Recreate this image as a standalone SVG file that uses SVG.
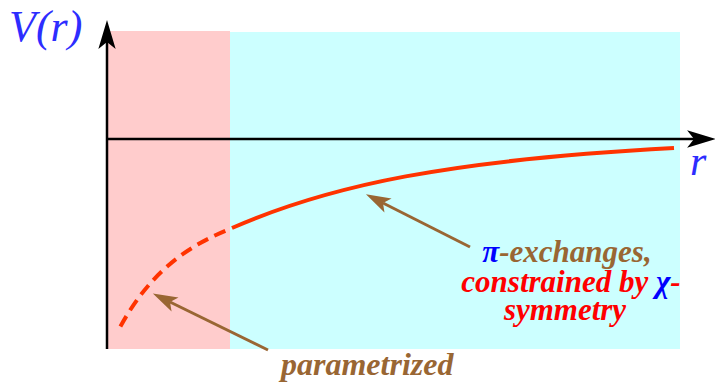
<svg xmlns="http://www.w3.org/2000/svg" width="715" height="382" viewBox="0 0 715 382">
<defs>
<marker id="ah" markerUnits="userSpaceOnUse" markerWidth="30" markerHeight="20" viewBox="0 -8 26 16" refX="6" refY="0" orient="auto">
<path d="M0,-7.5 L25,0 L0,7.5 L6,0 Z" fill="#000"/>
</marker>
<marker id="bh" markerUnits="userSpaceOnUse" markerWidth="26" markerHeight="18" viewBox="0 -8 23 16" refX="5" refY="0" orient="auto">
<path d="M0,-7 L22,0 L0,7 L5,0 Z" fill="#996633"/>
</marker>
</defs>
<g id="regions">
<rect id="short-range" x="108" y="31" width="122" height="318" fill="#ffcccc"/>
<rect id="long-range" x="230" y="32" width="450" height="317" fill="#ccffff"/>
</g>
<g id="curves" stroke="#ff3300" stroke-width="4" fill="none">
<path id="dashed" d="M118,331 C150,270 190,245 230,229" stroke-dasharray="12,7" stroke-dashoffset="14"/>
<path id="solid" d="M232,228 C330,185 450,160 674,148"/>
</g>
<g id="connectors" fill="none">
<g stroke="#000" stroke-width="2.5" marker-end="url(#ah)">
<path id="y-axis" d="M107,349 L107,42"/>
<path id="x-axis" d="M107,139 L694,139"/>
</g>
<g stroke="#996633" stroke-width="3" marker-end="url(#bh)">
<path id="ptr-pi" d="M470,247 L383,203"/>
<path id="ptr-param" d="M268,350 L170,302"/>
</g>
</g>
<g id="axis-labels">
<text style="font-family:'Liberation Serif',serif;font-style:italic;font-size:44px" fill="#2d2dff" x="9" y="41">V(r)</text>
<text style="font-family:'Liberation Serif',serif;font-style:italic;font-size:42px" fill="#2d2dff" x="690" y="175">r</text>
</g>
<g id="label-pi">
<text style="font-family:'Liberation Serif',serif;font-style:italic;font-weight:bold;font-size:31px" text-anchor="middle" x="567" y="262"><tspan fill="#0000ff">π</tspan><tspan fill="#996633">-exchanges,</tspan></text>
<text style="font-family:'Liberation Serif',serif;font-style:italic;font-weight:bold;font-size:31px" text-anchor="middle" x="571" y="292"><tspan fill="#ff0000">constrained by </tspan><tspan fill="#0000ff">χ</tspan><tspan fill="#ff0000">-</tspan></text>
<text style="font-family:'Liberation Serif',serif;font-style:italic;font-weight:bold;font-size:31px" text-anchor="middle" fill="#ff0000" x="565" y="320">symmetry</text>
</g>
<g id="label-param">
<text style="font-family:'Liberation Serif',serif;font-style:italic;font-weight:bold;font-size:32px" fill="#996633" x="281" y="375">parametrized</text>
</g>
</svg>
